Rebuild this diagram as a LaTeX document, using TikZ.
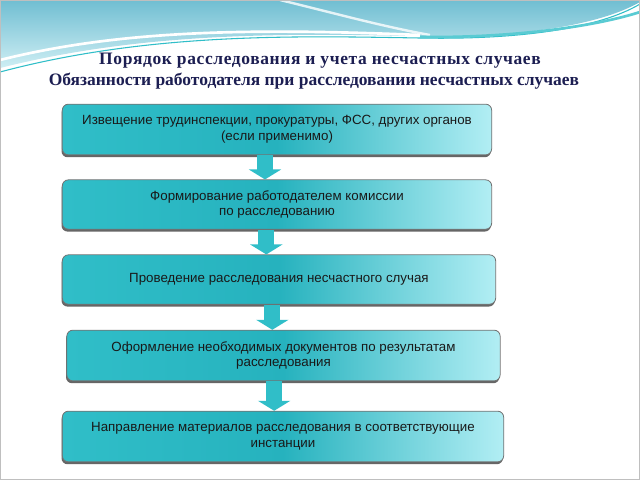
\documentclass[tikz,border=0pt]{standalone}
\usepackage{fontspec}
\setmainfont{Liberation Serif}
\setsansfont{Liberation Sans}
\usetikzlibrary{arrows.meta,shadows}

\definecolor{titleblue}{RGB}{28,30,82}
\definecolor{tealdark}{RGB}{38,178,190}
\definecolor{tealmid}{RGB}{48,190,200}
\definecolor{teallight}{RGB}{178,238,244}
\definecolor{wavetop}{RGB}{112,190,210}
\definecolor{wavelow}{RGB}{206,238,244}

\tikzset{
  stepbox/.style={rounded corners=4.5pt, draw=black!55, line width=0.6pt,
    left color=tealmid, right color=teallight, middle color=tealdark,
    minimum height=37pt, align=center, inner sep=2pt,
    font=\sffamily\fontsize{10}{11.8}\selectfont, text=black!90,
    drop shadow={shadow xshift=-0.6pt, shadow yshift=-1.8pt, opacity=0.75, fill=black!80}},
  flowarrow/.style={draw=tealmid, line width=12pt,
    -{Triangle[width=24pt,length=7.5pt,fill=tealmid]}},
  titletext/.style={text=titleblue, font=\bfseries\fontsize{13.1}{15}\selectfont}
}

\begin{document}
\begin{tikzpicture}[x=0.75pt,y=0.75pt,yscale=-1,xscale=1]
\useasboundingbox (0,0) rectangle (640,480);
%slide background
\fill[white] (0,0) rectangle (640,480);
%Top wave
\shade[top color=wavetop, bottom color=wavelow] (0,0) -- (640,0) -- (640,2) .. controls (600,25) and (520,38) .. (420,36) .. controls (300,34) and (150,30) .. (0,68) -- cycle;
\draw[white, line width=2pt] (0,60) .. controls (120,30) and (250,28) .. (420,35);
\draw[white, opacity=0.8, line width=1.8pt] (280,0) .. controls (330,12) and (380,26) .. (430,35);
\draw[tealmid, line width=0.8pt] (0,72) .. controls (150,32) and (300,36) .. (420,38) .. controls (520,40) and (600,28) .. (640,4);
\draw[tealmid!80, line width=2pt] (420,37) .. controls (520,38) and (600,25) .. (640,12);
\draw[black!25, line width=0.8pt] (0.5,0.5) rectangle (639.5,479.5);

% Title
\node[titletext] (title1) at (320,61) {\addfontfeature{LetterSpace=3.5}Порядок расследования и учета несчастных случаев};
\node[titletext] (title2) at (314,81) {Обязанности работодателя при расследовании несчастных случаев};

% Steps
\node[stepbox, minimum width=322pt, minimum height=38pt] (notify) at (277,129.5) {Извещение трудинспекции, прокуратуры, ФСС, других органов\\(если применимо)};
\node[stepbox, minimum width=322pt] (commission) at (277,204.5) {Формирование работодателем комиссии\\по расследованию};
\node[stepbox, minimum width=325pt] (conduct) at (279,279.5) {Проведение расследования несчастного случая};
\node[stepbox, minimum width=325pt, minimum height=38pt] (papers) at (283.5,355.5) {Оформление необходимых документов по результатам\\расследования};
\node[stepbox, minimum width=331pt, minimum height=38pt] (send) at (283,436.5) {Направление материалов расследования в соответствующие\\инстанции};

% Arrows
\draw[flowarrow] ([xshift=-9pt]notify.south) -- ([xshift=-9pt]notify.south |- commission.north);
\draw[flowarrow] ([xshift=-8pt]commission.south) -- ([xshift=-8pt]commission.south |- conduct.north);
\draw[flowarrow] ([xshift=-5pt]conduct.south) -- ([xshift=-5pt]conduct.south |- papers.north);
\draw[flowarrow] ([xshift=-7pt]papers.south) -- ([xshift=-7pt]papers.south |- send.north);
\end{tikzpicture}
\end{document}
